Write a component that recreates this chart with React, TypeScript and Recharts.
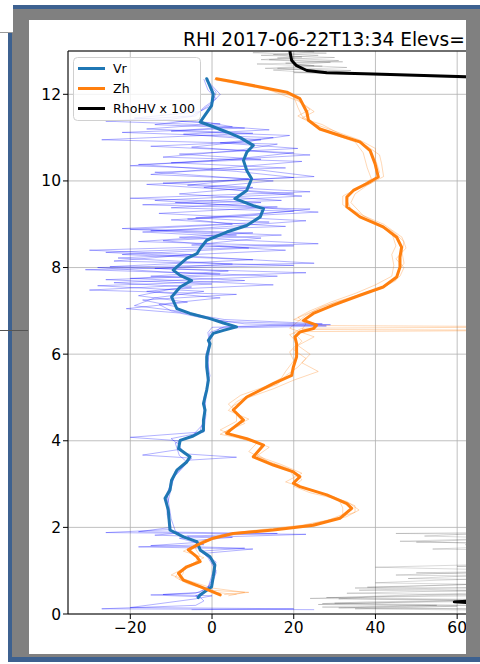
import React from 'react';
import { ScatterChart, Scatter, XAxis, YAxis, CartesianGrid, ReferenceLine } from 'recharts';

const FONT = '"DejaVu Sans", sans-serif';

// axis ticks
const xTicks = [-20, 0, 20, 40, 60];
const yTicks = [0, 2, 4, 6, 8, 10, 12];

// mean profiles (height in km, value)
const vrHeights = [
  12.36, 12.01, 11.74, 11.36, 11.28, 11.13, 11.0, 10.82, 10.66, 10.47,
  10.24, 10.05, 9.78, 9.59, 9.43, 9.36, 9.17, 8.97, 8.82, 8.63,
  8.44, 8.32, 8.21, 7.94, 7.82, 7.7, 7.55, 7.32, 7.05, 6.94,
  6.82, 6.72, 6.63, 6.55, 6.48, 6.32, 6.24, 5.94, 5.7, 5.4,
  5.17, 4.86, 4.71, 4.48, 4.24, 4.11, 4.01, 3.82, 3.63, 3.51,
  3.32, 3.09, 2.86, 2.67, 2.4, 1.94, 1.78, 1.67, 1.48, 1.32,
  1.13, 0.86, 0.63, 0.55, 0.44, 0.38,
];
const vrValues = [
  -1.3, 0.3, -0.1, -2.9, -0.5, 3.6, 6.9, 10.1, 8.5, 7.7,
  8.5, 9.7, 8.5, 5.6, 10.1, 12.6, 11.8, 8.5, 3.6, -1.3,
  -2.9, -3.7, -6.2, -9.5, -7.8, -5.0, -7.8, -9.9, -8.6, -5.4,
  -0.5, 2.8, 6.0, 2.8, 0.3, -0.9, -0.5, -1.3, -1.3, -0.9,
  -1.3, -2.1, -1.7, -2.1, -2.1, -4.6, -7.8, -8.2, -5.4, -6.2,
  -8.6, -9.9, -10.3, -11.5, -10.7, -10.3, -7.0, -3.7, -2.9, -0.5,
  0.7, 0.3, -0.1, -1.3, -2.9, -3.4,
];

const zhHeights = [
  12.36, 12.29, 12.17, 12.05, 11.9, 11.59, 11.4, 11.2, 11.05, 10.9,
  10.7, 10.4, 10.09, 9.94, 9.78, 9.63, 9.4, 9.17, 8.94, 8.7,
  8.47, 8.24, 8.01, 7.78, 7.55, 7.36, 7.13, 6.94, 6.78, 6.67,
  6.59, 6.51, 6.4, 6.24, 5.94, 5.7, 5.51, 5.32, 5.01, 4.71,
  4.48, 4.24, 4.17, 4.05, 3.9, 3.63, 3.44, 3.28, 3.17, 3.02,
  2.94, 2.75, 2.55, 2.44, 2.21, 2.05, 1.94, 1.86, 1.75, 1.59,
  1.48, 1.32, 1.21, 1.09, 0.94, 0.78, 0.63, 0.44,
];
const zhValues = [
  1.1, 5.2, 11.8, 18.3, 21.5, 23.2, 23.6, 26.4, 31.3, 36.2,
  38.7, 39.9, 40.7, 37.9, 34.6, 33.0, 33.0, 36.2, 41.9, 45.2,
  46.4, 46.0, 46.0, 45.2, 41.9, 36.2, 29.7, 24.8, 22.4, 25.6,
  24.8, 21.5, 20.3, 20.7, 20.7, 19.9, 19.5, 15.0, 8.5, 5.2,
  7.7, 4.4, 3.6, 8.5, 12.6, 10.1, 15.0, 19.9, 21.5, 19.9,
  21.5, 28.1, 33.0, 34.2, 31.3, 24.8, 15.0, 5.2, 0.3, -3.7,
  -5.8, -3.7, -2.9, -6.2, -8.2, -7.0, -2.9, 2.0,
];

const rhoHeights = [
  13.3, 12.97, 12.78, 12.66, 12.55, 12.5, 12.47, 12.4, 12.3, 12.0,
  11.0, 10.0, 9.0, 8.0, 7.0, 6.6, 6.0, 5.0, 4.0, 3.0,
  2.0, 1.5, 1.0, 0.6, 0.4, 0.32, 0.28, 0.23, 0.15,
];
const rhoValues = [
  19.0, 19.1, 19.5, 20.7, 23.2, 28.1, 39.5, 63.2, 80, 93,
  97, 98, 98, 97, 97, 90, 98, 98, 98, 97,
  96, 94, 95, 92, 88, 68, 59.3, 68, 85,
];

// single-ray profiles
const vrRayAHeights = [
  12.35, 12.1, 11.9, 11.7, 11.5, 11.4, 11.32, 11.2, 11.1, 10.95,
  10.85, 10.7, 10.55, 10.45, 10.3, 10.15, 10.05, 9.9, 9.75, 9.6,
  9.5, 9.38, 9.3, 9.15, 9.05, 8.9, 8.8, 8.7, 8.55, 8.4,
  8.3, 8.15, 8.05, 7.95, 7.85, 7.75, 7.6, 7.5, 7.35, 7.2,
  7.05, 6.95, 6.85, 6.75, 6.68, 6.62, 6.5, 6.2, 5.8, 5.3,
  4.9, 4.5, 4.2, 4.08, 4.0, 3.8, 3.67, 3.6, 3.4, 3.1,
  2.7, 2.3, 1.95, 1.88, 1.84, 1.75, 1.6, 1.55, 1.5, 1.4,
  1.2, 0.9, 0.6, 0.48, 0.44, 0.4, 0.3, 0.2, 0.12, 0.1,
];
const vrRayAValues = [
  -2, -1, 1, -2, -4, -12, 2, -16, 10, -27,
  16, 6, -12, 22, 3, -15, 9, -6, 24, -20,
  12, -10, 20, -4, 14, -22, 10, -8, 26, -30,
  -5, -24, 20, -31, 2, -20, 15, -10, -18, -6,
  -21, -8, -3, 4, 29, 0, -1, -0.5, -1, -1,
  -2, -2, -3, -20, -8, -8, -17, -5, -7, -10,
  -11, -11, -10, -26, 23, -8, -2, -18, 10, -2,
  1, 0, -1, -4, -15, -3, -2, -4, -27, 25,
];

const vrRayBHeights = [
  12.3, 12.0, 11.8, 11.6, 11.45, 11.35, 11.25, 11.15, 11.05, 10.9,
  10.8, 10.65, 10.5, 10.35, 10.25, 10.1, 9.95, 9.85, 9.7, 9.55,
  9.45, 9.35, 9.2, 9.1, 8.95, 8.85, 8.75, 8.6, 8.5, 8.35,
  8.25, 8.1, 8.0, 7.9, 7.8, 7.65, 7.55, 7.45, 7.3, 7.15,
  7.0, 6.9, 6.8, 6.7, 6.65, 6.6, 6.45, 6.0, 5.5, 5.0,
  4.6, 4.2, 4.05, 3.9, 3.7, 3.62, 3.55, 3.3, 2.9, 2.5,
  2.0, 1.9, 1.86, 1.8, 1.65, 1.58, 1.52, 1.45, 1.25, 0.95,
  0.7, 0.5, 0.45, 0.42, 0.35, 0.15, 0.12, 0.1,
];
const vrRayBValues = [
  -1, 2, 0, -3, -19, -1, 5, -10, 19, 8,
  -15, 20, 5, -20, 12, 25, -12, 10, -8, 17,
  -17, 24, 8, -10, 18, -15, 6, -18, 20, -26,
  -3, 25, -28, -12, 16, -24, -5, -16, 2, -13,
  -10, -4, 0, 8, 28, 2, 0, -1.5, -0.5, -2,
  -1.5, -2, -10, -8, -7, 6, -6, -9, -10, -11,
  -10, -18, 16, -6, -4, -15, 8, -3, 0, 1,
  0, -3, -12, 0, -4, -20, 20, -5,
];

const vrRayCHeights = [
  12.32, 12.05, 11.75, 11.5, 11.38, 11.3, 11.18, 11.08, 10.95, 10.78,
  10.6, 10.42, 10.3, 10.2, 10.0, 9.85, 9.7, 9.55, 9.42, 9.28,
  9.12, 9.0, 8.88, 8.75, 8.62, 8.45, 8.3, 8.18, 8.02, 7.92,
  7.8, 7.7, 7.58, 7.45, 7.3, 7.12, 6.98, 6.88, 6.8, 6.7,
  6.63, 6.5, 6.1, 5.6, 5.0, 4.4, 4.1, 3.95, 3.66, 3.5,
  3.2, 2.8, 2.2, 1.92, 1.87, 1.82, 1.77, 1.7, 1.5, 1.3,
  1.0, 0.8, 0.6, 0.5, 0.42, 0.38,
];
const vrRayCValues = [
  -1.5, 1, 0, -5, -26, -3, 14, -7, 12, -5,
  24, -10, 18, -14, 15, -2, 20, -14, 7, 26,
  -6, 5, -20, 17, -12, 9, -22, 10, -25, 4,
  -15, 8, -28, -2, -14, -19, -7, -2, 3, 27,
  3, -0.5, -1, -1, -1.5, -2, -5, -9, -8, -6,
  -9, -11, -10, -9, -8, -14, 5, -4, -3, -1,
  1, 0, -1, -2, -4, -3,
];

const vrRayDHeights = [
  11.42, 11.3, 11.22, 11.12, 11.0, 10.88, 10.75, 10.62, 10.5, 10.38,
  10.22, 10.08, 9.92, 9.8, 9.65, 9.5, 9.4, 9.25, 9.08, 8.95,
  8.82, 8.68, 8.52, 8.4, 8.22, 8.08, 7.98, 7.88, 7.72, 7.62,
  7.48, 7.38, 7.25, 7.1, 7.0,
];
const vrRayDValues = [
  -3, -14, 8, -22, 15, 2, 21, -8, 12, -18,
  6, 20, -16, 4, 22, -9, 16, -13, 23, 4,
  -17, 12, -5, 18, -23, 5, -14, 23, -26, 0,
  -30, 6, -17, -9, -7,
];

const zhRayAHeights = [
  12.36, 12.2, 12.0, 11.8, 11.6, 11.45, 11.3, 11.0, 10.8, 10.6,
  10.4, 10.1, 9.9, 9.7, 9.5, 9.2, 9.0, 8.7, 8.45, 8.2,
  8.0, 7.8, 7.6, 7.4, 7.2, 7.0, 6.8, 6.66, 6.63, 6.6,
  6.5, 6.3, 6.1, 5.9, 5.7, 5.5, 5.3, 5.1, 4.9, 4.7,
  4.5, 4.3, 4.15, 4.0, 3.85, 3.65, 3.45, 3.25, 3.05, 2.9,
  2.7, 2.5, 2.35, 2.2, 2.05, 1.95, 1.85, 1.7, 1.55, 1.45,
  1.3, 1.15, 1.0, 0.9, 0.75, 0.6, 0.5, 0.42,
];
const zhRayAValues = [
  1, 10, 19, 22, 25, 22, 27, 33, 38, 41,
  41.5, 42, 38, 35, 34, 37, 42, 46.5, 47.5, 45,
  47, 46, 43, 37, 30, 25, 20, 27, 90, 22,
  20, 22, 20, 23, 21, 18, 16, 10, 6, 4,
  9, 5, 2, 10, 14, 11, 17, 22, 18, 23,
  30, 35, 35, 30, 22, 12, 3, -2, -5, -7,
  -2, -5, -8, -10, -5, 0, 8, 4,
];

const zhRayBHeights = [
  12.33, 12.15, 11.95, 11.7, 11.5, 11.3, 11.1, 10.9, 10.65, 10.3,
  10.05, 9.85, 9.65, 9.45, 9.25, 9.0, 8.8, 8.5, 8.3, 8.05,
  7.8, 7.6, 7.4, 7.2, 7.0, 6.85, 6.7, 6.57, 6.55, 6.52,
  6.45, 6.25, 6.05, 5.85, 5.6, 5.45, 5.25, 5.05, 4.85, 4.65,
  4.45, 4.25, 4.1, 3.95, 3.75, 3.55, 3.35, 3.15, 3.0, 2.85,
  2.65, 2.45, 2.3, 2.15, 2.0, 1.9, 1.8, 1.65, 1.5, 1.35,
  1.2, 1.05, 0.95, 0.8, 0.65, 0.5, 0.45,
];
const zhRayBValues = [
  2, 12, 20, 21, 22, 25, 29, 35, 37, 38,
  39, 36, 32, 32, 35, 40, 44, 45, 44, 44.5,
  44, 40, 35, 29, 24, 21, 23, 22, 85, 21,
  19, 21, 19, 20, 18, 17, 13, 7, 4, 6,
  6, 2, 6, 11, 9, 13, 19, 20, 20, 25,
  31, 32, 32, 28, 20, 8, 2, -4, -4, -3,
  -4, -7, -7, -8, -4, 1, 6,
];

const zhRayCHeights = [
  12.34, 12.1, 11.85, 11.65, 11.5, 11.35, 11.15, 10.95, 10.75, 10.5,
  10.2, 9.95, 9.75, 9.55, 9.35, 9.1, 8.85, 8.6, 8.35, 8.1,
  7.9, 7.7, 7.5, 7.3, 7.1, 6.9, 6.75, 6.6, 6.4, 6.2,
  6.0, 5.8, 5.6, 5.4, 5.2, 5.0, 4.8, 4.6, 4.4, 4.2,
  4.05, 3.9, 3.7, 3.5, 3.3, 3.1, 2.95, 2.8, 2.6, 2.4,
  2.25, 2.1, 1.98, 1.88, 1.78, 1.62, 1.5, 1.38, 1.25, 1.1,
  0.98, 0.85, 0.7, 0.55, 0.5, 0.45,
];
const zhRayCValues = [
  0.5, 14, 21, 24, 21, 24, 30, 36, 40, 40,
  41, 39, 34, 33, 34, 39, 44, 47, 46.5, 47,
  45.5, 45, 41, 34, 27, 23, 21, 19, 25, 21,
  24, 22, 26, 20, 15, 9, 5, 6, 8, 3,
  7, 13, 11, 14, 20, 22, 20, 24, 33, 36,
  33, 27, 18, 7, 1, -3, -6, -4, -3, -5,
  -8, -9, -6, -1, 9, 3,
];

const rhoRayAHeights = [
  13.3, 13.0, 12.95, 12.9, 12.85, 12.8, 12.75, 12.7, 12.65, 12.6,
  12.55, 12.5, 12.45, 12.35, 12.2, 11.8, 10.0, 8.0, 6.0, 4.0,
  2.2, 1.9, 1.86, 1.82, 1.7, 1.66, 1.62, 1.5, 1.45, 1.2,
  1.1, 1.05, 0.9, 0.85, 0.7, 0.62, 0.58, 0.48, 0.43, 0.38,
  0.33, 0.27, 0.22, 0.18, 0.12, 0.08,
];
const rhoRayAValues = [
  18, 17, 28, 12, 30, 14, 32, 11, 27, 16,
  34, 20, 45, 75, 90, 96, 98, 98, 97, 98,
  97, 90, 45, 92, 60, 50, 88, 54, 90, 85,
  60, 90, 45, 85, 70, 38, 80, 33, 75, 28,
  70, 45, 26, 60, 35, 75,
];

const rhoRayBHeights = [
  13.3, 13.02, 12.96, 12.9, 12.84, 12.78, 12.72, 12.66, 12.6, 12.54,
  12.48, 12.4, 12.25, 12.0, 10.0, 7.0, 4.0, 2.0, 1.88, 1.8,
  1.72, 1.6, 1.52, 1.3, 1.2, 1.0, 0.95, 0.88, 0.78, 0.72,
  0.66, 0.55, 0.5, 0.4, 0.35, 0.3, 0.25, 0.2, 0.16, 0.1,
];
const rhoRayBValues = [
  20, 22, 10, 26, 16, 31, 18, 25, 13, 30,
  36, 60, 85, 94, 98, 97, 98, 96, 70, 52,
  88, 62, 90, 72, 95, 80, 50, 90, 55, 40,
  82, 36, 90, 40, 31, 75, 30, 65, 27, 80,
];

const rhoRayCHeights = [
  13.3, 13.05, 12.98, 12.92, 12.86, 12.8, 12.74, 12.68, 12.62, 12.56,
  12.5, 12.42, 12.3, 12.1, 9.0, 5.0, 2.0, 1.76, 1.68, 1.58,
  1.4, 1.15, 1.08, 0.98, 0.82, 0.76, 0.68, 0.6, 0.52, 0.45,
  0.36, 0.32, 0.28, 0.24, 0.2, 0.14, 0.1,
];
const rhoRayCValues = [
  21, 19, 25, 15, 22, 12, 29, 20, 33, 15,
  24, 50, 82, 95, 98, 98, 97, 75, 46, 85,
  96, 70, 40, 88, 48, 90, 62, 35, 78, 52,
  24, 68, 38, 27, 55, 31, 85,
];

const legendItems = [
  { label: 'Vr', color: '#1f77b4' },
  { label: 'Zh', color: '#ff7f0e' },
  { label: 'RhoHV x 100', color: '#000000' },
];

const toPoints = (hs: number[], vs: number[]) => hs.map((h, i) => ({ x: vs[i], y: h }));

const rays = [
  { id: 'rhoA', pts: toPoints(rhoRayAHeights, rhoRayAValues), color: '#000', op: 0.15 },
  { id: 'rhoB', pts: toPoints(rhoRayBHeights, rhoRayBValues), color: '#000', op: 0.15 },
  { id: 'rhoC', pts: toPoints(rhoRayCHeights, rhoRayCValues), color: '#000', op: 0.15 },
  { id: 'zhA', pts: toPoints(zhRayAHeights, zhRayAValues), color: '#ff7f0e', op: 0.3 },
  { id: 'zhB', pts: toPoints(zhRayBHeights, zhRayBValues), color: '#ff7f0e', op: 0.3 },
  { id: 'zhC', pts: toPoints(zhRayCHeights, zhRayCValues), color: '#ff7f0e', op: 0.3 },
  { id: 'vrA', pts: toPoints(vrRayAHeights, vrRayAValues), color: '#0000ff', op: 0.3 },
  { id: 'vrB', pts: toPoints(vrRayBHeights, vrRayBValues), color: '#0000ff', op: 0.3 },
  { id: 'vrC', pts: toPoints(vrRayCHeights, vrRayCValues), color: '#0000ff', op: 0.3 },
  { id: 'vrD', pts: toPoints(vrRayDHeights, vrRayDValues), color: '#0000ff', op: 0.3 },
];

const means = [
  { id: 'Vr', pts: toPoints(vrHeights, vrValues), color: '#1f77b4' },
  { id: 'Zh', pts: toPoints(zhHeights, zhValues), color: '#ff7f0e' },
  { id: 'RhoHV', pts: toPoints(rhoHeights, rhoValues), color: '#000000' },
];

const NoDot = () => <g />;
const fmtTick = (v: number) => (v < 0 ? `\u2212${Math.abs(v)}` : `${v}`);

const tickStyle = { fill: '#000', fontSize: 15.5, fontFamily: FONT };

export default function App() {
  return (
    <div style={{ position: 'absolute', left: 0, top: 0, width: 480, height: 664, background: '#fff', overflow: 'hidden' }}>
      {/* window frame around the figure */}
      <div style={{ position: 'absolute', left: 8, top: 5, width: 480, height: 657, background: '#3d6190' }} />
      <div style={{ position: 'absolute', left: 12, top: 9, width: 480, height: 648, background: '#808080' }} />
      <div style={{ position: 'absolute', left: 0, top: 0, width: 13, height: 32, background: '#fff', borderBottom: '1px solid #9a9a9a' }} />
      <div style={{ position: 'absolute', left: 0, top: 330, width: 28, height: 1, background: '#555' }} />

      <div style={{ position: 'absolute', left: 29, top: 20, width: 437, height: 634, background: '#fff', overflow: 'hidden' }}>
        <ScatterChart width={700} height={634} margin={{ top: 31, right: 89, bottom: 0, left: 0 }}>
          <CartesianGrid stroke="#b0b0b0" strokeWidth={0.8} />
          <XAxis
            type="number"
            dataKey="x"
            domain={[-35.25, 104.75]}
            ticks={xTicks}
            interval={0}
            allowDataOverflow
            height={40}
            tickSize={5}
            tickMargin={3}
            stroke="#000"
            tick={tickStyle}
            tickFormatter={fmtTick}
          />
          <YAxis
            type="number"
            dataKey="y"
            domain={[0, 13]}
            ticks={yTicks}
            interval={0}
            allowDataOverflow
            width={39}
            tickSize={5}
            tickMargin={2}
            stroke="#000"
            tick={tickStyle}
            tickFormatter={fmtTick}
          />
          <ReferenceLine y={13} stroke="#000" strokeWidth={1} />
          <ReferenceLine x={104.75} stroke="#000" strokeWidth={1} />
          {rays.map((r) => (
            <Scatter
              key={r.id}
              name={r.id}
              data={r.pts}
              fill={r.color}
              shape={NoDot}
              line={{ stroke: r.color, strokeWidth: 1, strokeOpacity: r.op }}
              lineJointType="linear"
              isAnimationActive={false}
            />
          ))}
          {means.map((m) => (
            <Scatter
              key={m.id}
              name={m.id}
              data={m.pts}
              fill={m.color}
              shape={NoDot}
              line={{ stroke: m.color, strokeWidth: 3, strokeLinejoin: 'round', strokeLinecap: 'round' }}
              lineJointType="linear"
              isAnimationActive={false}
            />
          ))}
        </ScatterChart>

        {/* title and legend */}
        <svg width={437} height={634} style={{ position: 'absolute', left: 0, top: 0, pointerEvents: 'none' }}>
          <text x={154} y={26} fontFamily={FONT} fontSize={18.6} fill="#000">
            RHI 2017-06-22T13:34 Elevs=
          </text>
          <rect x={44.5} y={37.5} width={127} height={63} rx={4} fill="#fff" fillOpacity={0.8} stroke="#d0d0d0" />
          {legendItems.map((it, i) => (
            <g key={it.label}>
              <line x1={49} x2={76} y1={48.5 + i * 20} y2={48.5 + i * 20} stroke={it.color} strokeWidth={3} />
              <text x={84} y={52.5 + i * 20} fontFamily={FONT} fontSize={12.6} fill="#000">
                {it.label}
              </text>
            </g>
          ))}
        </svg>
      </div>
    </div>
  );
}
